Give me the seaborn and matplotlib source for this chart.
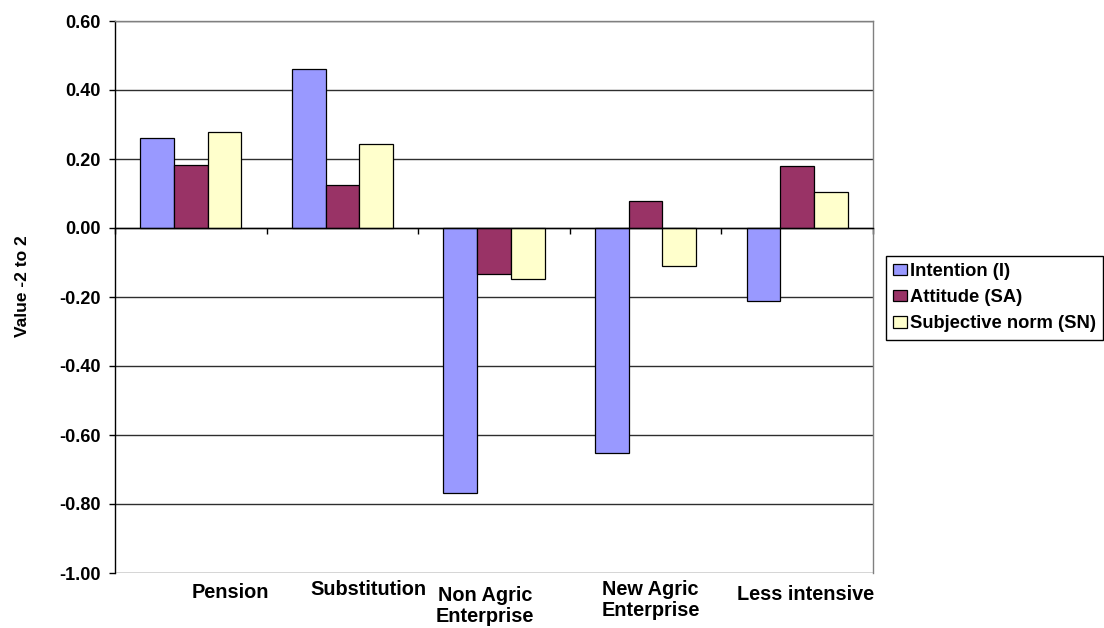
import numpy as np
import pandas as pd
import matplotlib
matplotlib.use("Agg")
import matplotlib.pyplot as plt
import seaborn as sns
from matplotlib.transforms import ScaledTranslation

# Chart data
categories = ["Pension", "Substitution", "Non Agric\nEnterprise",
              "New Agric\nEnterprise", "Less intensive"]
series = ["Intention (I)", "Attitude (SA)", "Subjective norm (SN)"]
intention = [0.262, 0.460, -0.767, -0.653, -0.213]
attitude = [0.182, 0.124, -0.133, 0.077, 0.179]
subjective_norm = [0.278, 0.244, -0.147, -0.110, 0.104]
y_tick_values = [0.60, 0.40, 0.20, 0.00, -0.20, -0.40, -0.60, -0.80, -1.00]
y_tick_labels = ["0.60", "0.40", "0.20", "0.00", "-0.20", "-0.40",
                 "-0.60", "-0.80", "-1.00"]
y_label = "Value -2 to 2"

colors = ["#9999FF", "#993366", "#FFFFCC"]

df = pd.DataFrame({
    "category": categories * 3,
    "series": [s for s in series for _ in categories],
    "value": intention + attitude + subjective_norm,
})

sns.set_theme(style="white")
plt.rcParams["font.family"] = ["Liberation Sans", "DejaVu Sans"]
plt.rcParams["font.weight"] = "bold"
plt.rcParams["axes.unicode_minus"] = False
for key in ("text.color", "axes.labelcolor", "xtick.color", "ytick.color",
            "xtick.labelcolor", "ytick.labelcolor"):
    plt.rcParams[key] = "black"

W, H = 1104, 628
fig = plt.figure(figsize=(W / 100, H / 100), dpi=100)
ax = fig.add_axes([115 / W, 1 - 573 / H, 758 / W, 552 / H])

sns.barplot(data=df, x="category", y="value", hue="series",
            order=categories, hue_order=series, palette=colors,
            saturation=1, width=0.667, edgecolor="black", linewidth=0.9,
            errorbar=None, ax=ax)

ax.set_xlim(-0.5, len(categories) - 0.5)
ax.set_ylim(-1.0, 0.6)

# horizontal gridlines behind bars
ax.set_yticks(y_tick_values)
ax.set_yticklabels(y_tick_labels, fontsize=13, fontweight="bold")
ax.yaxis.grid(True, color="#2e2e2e", linewidth=1.0)
ax.set_axisbelow(True)
ax.tick_params(axis="y", which="major", direction="out", length=4,
               width=1, color="black", labelcolor="black", pad=6, left=True)

# category axis crosses at zero
ax.spines["bottom"].set_position(("data", 0))
ax.spines["bottom"].set_color("black")
ax.spines["bottom"].set_linewidth(1)
ax.spines["left"].set_color("black")
ax.spines["left"].set_linewidth(1)
for side in ("top", "right"):
    ax.spines[side].set_visible(True)
    ax.spines[side].set_color("#808080")
    ax.spines[side].set_linewidth(1)

ax.set_xticks(np.arange(len(categories) + 1) - 0.5, minor=True)
ax.tick_params(axis="x", which="minor", direction="out", length=4,
               width=1, color="black", bottom=True)
ax.set_xticks(np.arange(len(categories)))
ax.set_xticklabels(categories, fontsize=14.3, fontweight="bold",
                   linespacing=1.15, color="black")
ax.tick_params(axis="x", which="major", length=0, pad=0, labelcolor="black")
ax.set_xlabel("")

# per-label placement of the category names below the plot
label_shift = [(40, 355), (26, 352), (-9, 358), (5, 352), (8, 357)]
for lab, (dx, dy) in zip(ax.get_xticklabels(), label_shift):
    lab.set_transform(lab.get_transform() +
                      ScaledTranslation(dx / 100, -dy / 100,
                                        fig.dpi_scale_trans))

ax.set_ylabel(y_label, fontsize=12.5, fontweight="bold", color="black")
ax.yaxis.set_label_coords(-0.112, 0.52)

handles, labels = ax.get_legend_handles_labels()
ax.get_legend().remove()
leg = ax.legend(handles, labels, loc="upper left",
                bbox_to_anchor=(885.7 / W, 1 - 255.7 / H),
                bbox_transform=fig.transFigure, borderaxespad=0,
                frameon=True, fancybox=False, edgecolor="black",
                framealpha=1, fontsize=13.2, handlelength=0.77,
                handleheight=0.58, handletextpad=0.15, labelspacing=0.5,
                borderpad=0.4)
leg.get_frame().set_linewidth(1)
for t in leg.get_texts():
    t.set_fontweight("bold")
    t.set_color("black")

fig.savefig("out.png", dpi=100, facecolor="white")
